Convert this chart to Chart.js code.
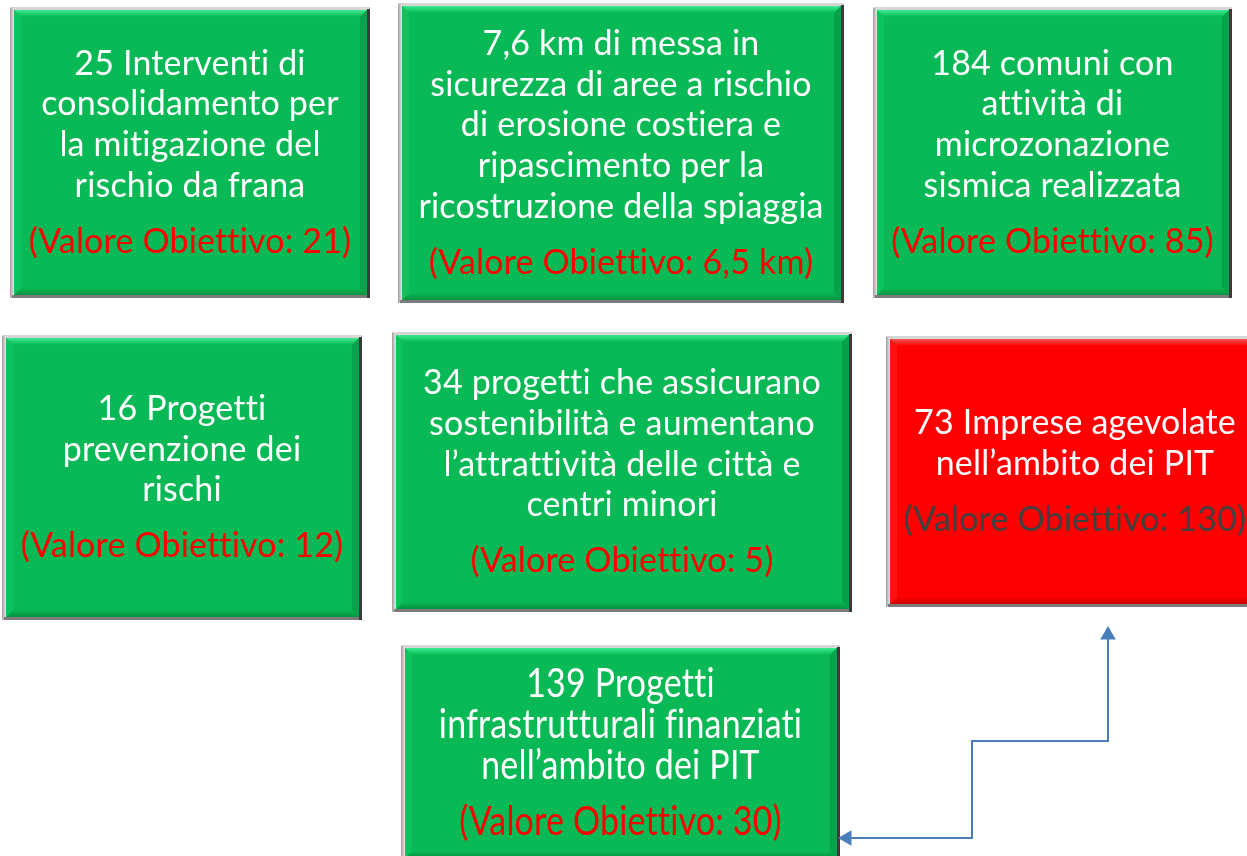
<!DOCTYPE html>
<html>
<head>
<meta charset="utf-8">
<script src="https://cdn.jsdelivr.net/npm/chart.js@4.4.1/dist/chart.umd.min.js"></script>
<style>
  html, body { margin: 0; padding: 0; background: #fff; overflow: hidden; }
  canvas { display: block; }
</style>
</head>
<body>
<canvas id="board" width="1247" height="856"></canvas>
<script>
/* Indicator results, one box each (line breaks as in the original) */
var results = [
  ['25 Interventi di', 'consolidamento per', 'la mitigazione del', 'rischio da frana'],
  ['7,6 km di messa in', 'sicurezza di aree a rischio', 'di erosione costiera e', 'ripascimento per la', 'ricostruzione della spiaggia'],
  ['184 comuni con', 'attività di', 'microzonazione', 'sismica realizzata'],
  ['16 Progetti', 'prevenzione dei', 'rischi'],
  ['34 progetti che assicurano', 'sostenibilità e aumentano', 'l\u2019attrattività delle città e', 'centri minori'],
  ['73 Imprese agevolate', 'nell\u2019ambito dei PIT'],
  ['139 Progetti', 'infrastrutturali finanziati', 'nell\u2019ambito dei PIT']
];

var targets = [
  '(Valore Obiettivo: 21)',
  '(Valore Obiettivo: 6,5 km)',
  '(Valore Obiettivo: 85)',
  '(Valore Obiettivo: 12)',
  '(Valore Obiettivo: 5)',
  '(Valore Obiettivo: 130)',
  '(Valore Obiettivo: 30)'
];

/* target reached? (false -> red box) */
var reached = [true, true, true, true, true, false, true];

/* Layout in page units: left, top, right, bottom */
var boxes = [
  [10, 7, 370, 298],
  [398, 3, 844, 303],
  [873, 7, 1232, 298],
  [2, 335, 362, 620],
  [392, 332, 852, 612],
  [886, 336, 1264, 607],
  [401, 645, 840, 861]
];
/* vertical text stretch per box (last one is set tall and narrow) */
var stretch = [1, 1, 1, 1, 1, 1, 1.15];

/* elbow connector between the PIT boxes */
var link = [
  { x: 847, y: 838 },
  { x: 972, y: 838 },
  { x: 972, y: 741 },
  { x: 1108, y: 741 },
  { x: 1108, y: 635 }
];

var FONT = 'Lato, "Open Sans", sans-serif';
var FS = 35;
var SX = 0.97;
var LH = 40.7;
var GAP = 58;

var FACE = {
  ok: { base: '#08b955', light: '#3cec90', dark: '#05933f', side: '#0cc35d', shade: '#06a148' },
  ko: { base: '#fe0000', light: '#ff5555', dark: '#cc0000', side: '#ff1414', shade: '#dd0000' }
};

function poly(ctx, pts, fill) {
  ctx.beginPath();
  ctx.moveTo(pts[0], pts[1]);
  for (var i = 2; i < pts.length; i += 2) ctx.lineTo(pts[i], pts[i + 1]);
  ctx.closePath();
  ctx.fillStyle = fill;
  ctx.fill();
}

function drawBox(ctx, l, t, r, b, c) {
  /* outer rim */
  ctx.fillStyle = '#d6d6d6';
  ctx.fillRect(l, t, r - l, b - t);
  var g = ctx.createLinearGradient(l, 0, l + 4, 0);
  g.addColorStop(0, '#9c9c9c');
  g.addColorStop(1, '#e8e8e8');
  ctx.fillStyle = g;
  ctx.fillRect(l, t + 1, 4, b - t - 1);
  ctx.fillStyle = '#7c7c7c';
  ctx.fillRect(l + 2, b - 3, r - l - 2, 3);
  ctx.fillStyle = '#3a3a3a';
  ctx.fillRect(r - 3, t + 2, 3, b - t - 2);

  /* bevelled face */
  var fl = l + 4, ft = t + 3, fr = r - 3, fb = b - 3, bw = 7;
  ctx.fillStyle = c.base;
  ctx.fillRect(fl, ft, fr - fl, fb - ft);
  var gt = ctx.createLinearGradient(0, ft, 0, ft + bw);
  gt.addColorStop(0, c.light);
  gt.addColorStop(1, c.base);
  poly(ctx, [fl, ft, fr, ft, fr - bw, ft + bw, fl + bw, ft + bw], gt);
  var gb = ctx.createLinearGradient(0, fb - bw, 0, fb);
  gb.addColorStop(0, c.base);
  gb.addColorStop(1, c.dark);
  poly(ctx, [fl, fb, fr, fb, fr - bw, fb - bw, fl + bw, fb - bw], gb);
  poly(ctx, [fl, ft, fl + bw, ft + bw, fl + bw, fb - bw, fl, fb], c.side);
  poly(ctx, [fr, ft, fr - bw, ft + bw, fr - bw, fb - bw, fr, fb], c.shade);
}

function drawLine(ctx, txt, x, y, maxW, sy, color) {
  ctx.fillStyle = color;
  var sx = SX;
  var w = ctx.measureText(txt).width * sx;
  if (w > maxW) sx = sx * maxW / w;
  ctx.save();
  ctx.translate(x, y);
  ctx.scale(sx, sy);
  ctx.fillText(txt, 0, 0.35 * FS);
  ctx.restore();
}

var boxPlugin = {
  id: 'indicatorBoxes',
  beforeDatasetsDraw: function (chart) {
    var ctx = chart.ctx, xs = chart.scales.x, ys = chart.scales.y;
    ctx.save();
    ctx.font = FS + 'px ' + FONT;
    if ('letterSpacing' in ctx) ctx.letterSpacing = '0.2px';
    ctx.textAlign = 'center';
    ctx.textBaseline = 'alphabetic';
    boxes.forEach(function (bx, i) {
      var l = xs.getPixelForValue(bx[0]), r = xs.getPixelForValue(bx[2]);
      var t = ys.getPixelForValue(bx[1]), b = ys.getPixelForValue(bx[3]);
      var c = reached[i] ? FACE.ok : FACE.ko;
      drawBox(ctx, l, t, r, b, c);
      var lines = results[i];
      var cx = (l + r) / 2, cy = (t + b) / 2;
      var y0 = cy - ((lines.length - 1) * LH + GAP) / 2;
      var maxW = r - l - 14;
      lines.forEach(function (s, k) {
        drawLine(ctx, s, cx, y0 + k * LH, maxW, stretch[i], '#ffffff');
      });
      drawLine(ctx, targets[i], cx, y0 + (lines.length - 1) * LH + GAP - 2, maxW, stretch[i],
               reached[i] ? '#ff0000' : '#404040');
    });
    ctx.restore();
  }
};

new Chart(document.getElementById('board'), {
  type: 'scatter',
  data: {
    datasets: [{
      data: link,
      showLine: true,
      borderColor: '#4a7ebb',
      borderWidth: 2,
      backgroundColor: '#4a7ebb',
      pointBackgroundColor: '#4a7ebb',
      pointBorderWidth: 0,
      pointStyle: 'triangle',
      pointRadius: [9, 0, 0, 0, 9],
      pointHoverRadius: [9, 0, 0, 0, 9],
      rotation: [-90, 0, 0, 0, 0],
      tension: 0,
      clip: false
    }]
  },
  options: {
    responsive: false,
    animation: false,
    layout: { padding: 0, autoPadding: false },
    events: [],
    plugins: { legend: { display: false }, tooltip: { enabled: false } },
    scales: {
      x: { type: 'linear', min: 0, max: 1247, display: false },
      y: { type: 'linear', min: 0, max: 856, reverse: true, display: false }
    }
  },
  plugins: [boxPlugin]
});
</script>
</body>
</html>
